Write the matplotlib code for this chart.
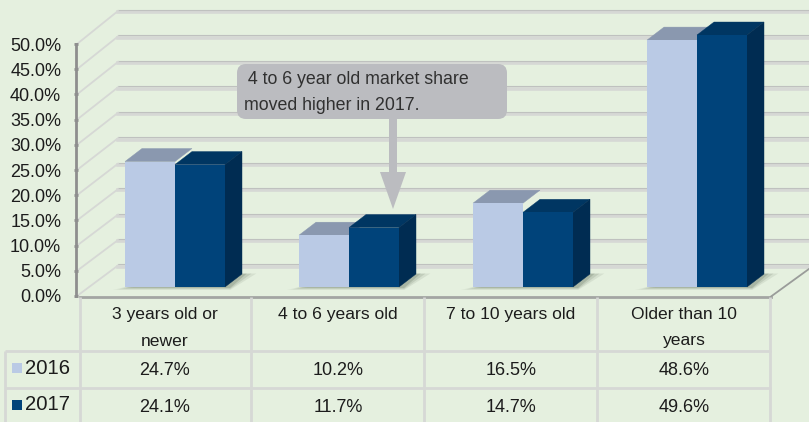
import numpy as np
import matplotlib
matplotlib.use('Agg')
import matplotlib.pyplot as plt
from matplotlib.patches import Polygon, FancyBboxPatch

plt.rcParams['font.family'] = ['Liberation Sans', 'DejaVu Sans']

# chart data
categories = ['3 years old or\nnewer', '4 to 6 years old', '7 to 10 years old', 'Older than 10\nyears']
values_2016 = [24.7, 10.2, 16.5, 48.6]
values_2017 = [24.1, 11.7, 14.7, 49.6]
labels_2016 = ['24.7%', '10.2%', '16.5%', '48.6%']
labels_2017 = ['24.1%', '11.7%', '14.7%', '49.6%']
yticks = [0, 5, 10, 15, 20, 25, 30, 35, 40, 45, 50]
callout = ' 4 to 6 year old market share\nmoved higher in 2017.'

BG = '#e5f0df'
LIGHT = '#bacae5'
LIGHT_TOP = '#8a98af'
DARK = '#00437a'
DARK_TOP = '#003662'
DARK_SIDE = '#002c52'
GRID = '#d6d8d5'
GRID_DARK = '#bfc1bf'
TEXT = '#1c1c1c'
FS = 13

W, H = 809, 422
fig = plt.figure(figsize=(W / 100, H / 100), dpi=100, facecolor=BG)

# overlay in pixel coordinates for the data table and the callout
over = fig.add_axes([0, 0, 1, 1], zorder=3)
over.set_xlim(0, W)
over.set_ylim(H, 0)
over.axis('off')

# main chart, 0 at y=296 and 50 at y=44
ax = fig.add_axes([80 / W, 1 - 296 / H, (771 - 80) / W, (296 - 44) / H], zorder=2)
ax.patch.set_alpha(0)
px_y = (296 - 44) / 50
px_x = 174
ax.set_ylim(0, 50)
ax.set_xlim((80 - 175) / px_x, (771 - 175) / px_x)

for s in ['top', 'right', 'bottom']:
    ax.spines[s].set_visible(False)
ax.spines['left'].set_position(('outward', 3))
ax.spines['left'].set_color('#8e8e8e')
ax.spines['left'].set_linewidth(2)
ax.set_xticks([])
ax.set_yticks(yticks)
ax.set_yticklabels([f'{t:.1f}%' for t in yticks], fontsize=FS, color=TEXT)
ax.tick_params(axis='y', color='#8e8e8e', width=2, length=3, direction='inout', pad=9)

x = np.arange(len(categories))
bar_w = 50 / px_x
base = 9 / px_y
scale = 1.008
dx = 17 / px_x
dy = 13 / px_y


def to_x(p):
    return (p - 175) / px_x


# back wall and side wall grid
for t in yticks:
    yb = 30.5 / px_y + t * 1.01
    for lw, col, off in [(2.6, GRID, -0.25), (0.8, GRID_DARK, 0.2)]:
        ax.plot([to_x(118), to_x(812)], [yb + off, yb + off], color=col, lw=lw, clip_on=False, zorder=1)
    ax.plot([to_x(77), to_x(118)], [t, yb], color=GRID, lw=1.3, clip_on=False, zorder=1)

# floor edges
ax.plot([to_x(80), to_x(771)], [-0.1, -0.1], color='#a3a5a3', lw=2, clip_on=False, zorder=2)
ax.plot([to_x(771), to_x(812)], [-0.1, 5.8], color='#9a9c9a', lw=1.3, clip_on=False, zorder=2)

# floor shadows under the bars
for i in x:
    for grow, a in [(12, 0.10), (8, 0.14), (4, 0.2)]:
        drop = grow * 0.25 / px_y
        pts = [(i - bar_w - grow / px_x, base - drop), (i + bar_w + dx * 0.3, base - drop),
               (i + bar_w + dx + grow * 1.2 / px_x, base + dy + 0.1), (i + bar_w, base + dy)]
        ax.add_patch(Polygon(pts, closed=True, fc='#4c5a48', ec='none', alpha=a, clip_on=False, zorder=3))

# 3D bars
h16 = np.array(values_2016) * scale
h17 = np.array(values_2017) * scale
for i in x:
    top = base + h16[i]
    ax.add_patch(Polygon([(i - bar_w, top), (i, top), (i + dx, top + dy), (i - bar_w + dx, top + dy)],
                         closed=True, fc=LIGHT_TOP, ec=LIGHT_TOP, lw=0.3, clip_on=False, zorder=4))
ax.bar(x - bar_w / 2, h16, bar_w, bottom=base, color=LIGHT, clip_on=False, zorder=5)
for i in x:
    top = base + h17[i]
    ax.add_patch(Polygon([(i, top), (i + bar_w, top), (i + bar_w + dx, top + dy), (i + dx, top + dy)],
                         closed=True, fc=DARK_TOP, ec=DARK_TOP, lw=0.3, clip_on=False, zorder=6))
    ax.add_patch(Polygon([(i + bar_w, base), (i + bar_w + dx, base + dy), (i + bar_w + dx, top + dy), (i + bar_w, top)],
                         closed=True, fc=DARK_SIDE, ec=DARK_SIDE, lw=0.3, clip_on=False, zorder=6))
ax.bar(x + bar_w / 2, h17, bar_w, bottom=base, color=DARK, clip_on=False, zorder=7)

# data table
col_edges = [80, 251, 424, 597, 770]
for c in col_edges:
    over.plot([c, c], [297, H], color=GRID, lw=2, solid_capstyle='butt')
over.plot([5, 5], [351, H], color=GRID, lw=2, solid_capstyle='butt')
for r in [351, 388]:
    over.plot([5, 771], [r, r], color=GRID, lw=2, solid_capstyle='butt')

centers = [165, 338, 511, 684]
for c, cat, a, b in zip(centers, categories, labels_2016, labels_2017):
    parts = cat.split('\n')
    over.text(c, 314.5, parts[0], ha='center', va='center', fontsize=12.6, color=TEXT)
    if len(parts) > 1:
        over.text(c, 341, parts[1], ha='center', va='center', fontsize=12.6, color=TEXT)
    over.text(c, 370.5, a, ha='center', va='center', fontsize=FS, color=TEXT)
    over.text(c, 407.5, b, ha='center', va='center', fontsize=FS, color=TEXT)

for name, col, y in [('2016', LIGHT, 368), ('2017', DARK, 405)]:
    over.add_patch(plt.Rectangle((12, y - 5), 10, 10, fc=col, ec='none'))
    over.text(25, y, name, ha='left', va='center', fontsize=14.6, color=TEXT)

# callout with down arrow
CALL = '#bbbcc0'
over.add_patch(FancyBboxPatch((243, 70), 258, 43, boxstyle='round,pad=6,rounding_size=9', fc=CALL, ec='none'))
over.add_patch(Polygon([(389, 118), (397, 118), (397, 172), (406, 172), (393, 209), (380, 172), (389, 172)],
                       closed=True, fc=CALL, ec='none'))
lines = callout.split('\n')
over.text(243, 80, lines[0], ha='left', va='center', fontsize=12.8, color='#303030')
over.text(244, 105.5, lines[1], ha='left', va='center', fontsize=12.8, color='#303030')

fig.savefig('out.png', dpi=100, facecolor=BG)
